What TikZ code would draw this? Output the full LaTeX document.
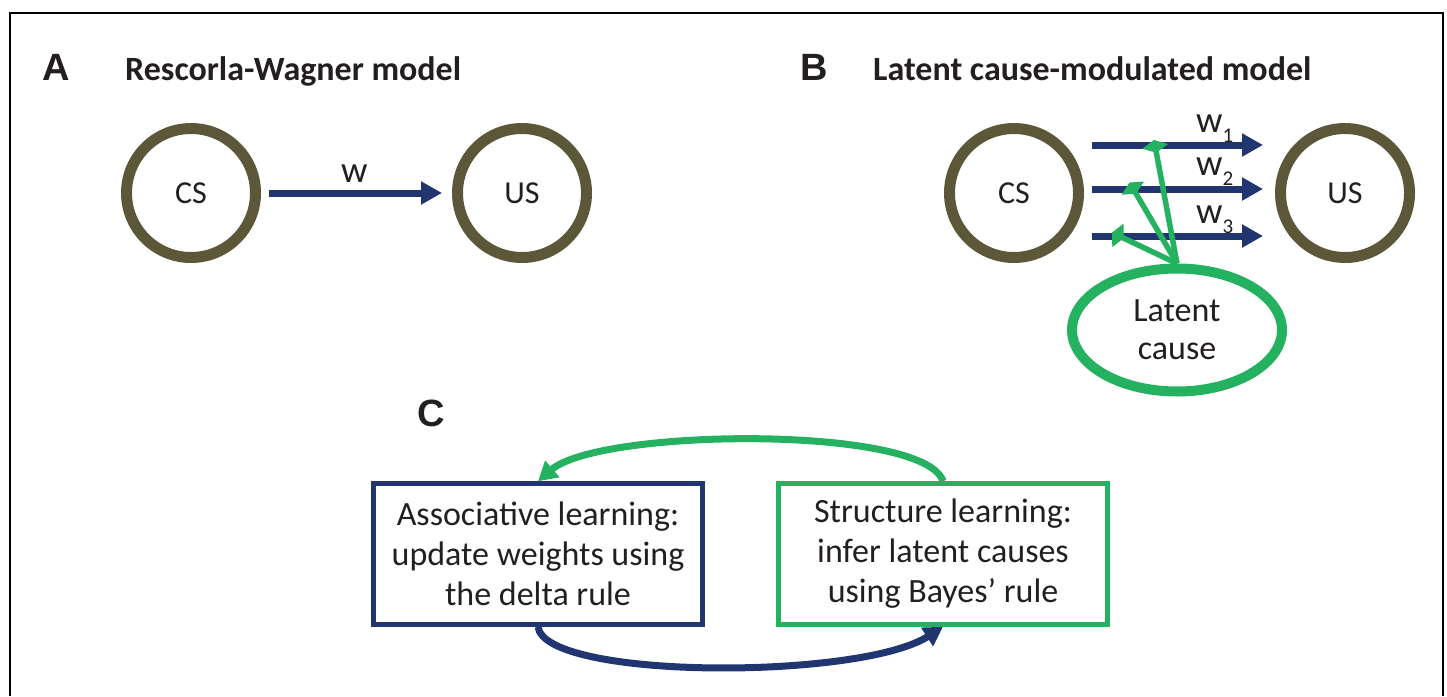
\documentclass[tikz,border=0pt]{standalone}
\usepackage{fontspec}
\setmainfont{Carlito}
\newfontfamily\panelfont{Liberation Sans}
\usetikzlibrary{arrows.meta,shapes.geometric,calc}
\definecolor{navyc}{RGB}{33,54,112}
\definecolor{olivec}{RGB}{92,87,56}
\definecolor{greenc}{RGB}{37,178,96}
\definecolor{inkc}{RGB}{35,31,32}
\newcommand\wsub[1]{\raisebox{-10pt}{\fontsize{21}{24}\selectfont #1}}
\begin{document}
\begin{tikzpicture}[x=1pt,y=-1pt,
  every node/.style={text=inkc},
  panel/.style={font=\panelfont\bfseries\fontsize{38}{40}\selectfont,anchor=base west,inner sep=0pt},
  ptitle/.style={font=\bfseries\fontsize{34}{40}\selectfont,anchor=base west,inner sep=0pt},
  stim/.style={circle,draw=olivec,line width=11pt,minimum size=129pt,inner sep=0pt,
    font=\fontsize{32}{38}\selectfont},
  wlink/.style={draw=navyc,line width=7pt,-{Triangle[length=21pt,width=22pt]}},
  wlab/.style={font=\fontsize{37}{40}\selectfont,anchor=base west,inner sep=0pt},
  gate/.style={draw=greenc,line width=5.5pt,-{Diamond[length=13pt,width=26pt]}},
  latent/.style={ellipse,draw=greenc,line width=10pt,fill=white,minimum width=210pt,
    minimum height=123pt,inner sep=0pt,align=center,font=\fontsize{34}{38}\selectfont},
  procbox/.style={rectangle,line width=4.5pt,minimum width=329pt,minimum height=141pt,
    inner sep=0pt,align=center,font=\fontsize{34}{40}\selectfont},
  loopg/.style={draw=greenc,line width=7pt,-{Triangle[length=19pt,width=21pt]}},
  loopn/.style={draw=navyc,line width=7pt,-{Triangle[length=19pt,width=21pt]}}]

\useasboundingbox (0,0) rectangle (1447,696);

% outer frame (open at the bottom)
\draw[line width=1.5pt] (10,696) -- (10,13) -- (1443,13) -- (1443,696);

% ---------- A: Rescorla-Wagner ----------
\node[panel] (lA) at (42,80) {A};
\node[ptitle] (tA) at (125,80) {Rescorla-Wagner model};
\node[stim] (csA) at (191,193) {CS};
\node[stim] (usA) at (522,193) {US};
\draw[wlink,shorten <=8pt,shorten >=10pt] (csA.east) -- (usA.west);
\node[wlab] (wA) at (341,182) {w};

% ---------- B: latent cause-modulated ----------
\node[panel] (lB) at (800,80) {B};
\node[ptitle] (tB) at (873,80) {Latent cause-modulated model};
\node[stim] (csB) at (1014,193) {CS};
\node[stim] (usB) at (1345,193) {US};
\draw[wlink] ($(csB.center)+(78,-48)$) -- ($(usB.center)+(-82,-48)$);
\draw[wlink] ($(csB.center)+(78,-4)$) -- ($(usB.center)+(-82,-4)$);
\draw[wlink] ($(csB.center)+(78,43)$) -- ($(usB.center)+(-82,43)$);
\node[wlab] (w1) at (1196,132) {w\wsub{1}};
\node[wlab] (w2) at (1196,175) {w\wsub{2}};
\node[wlab] (w3) at (1196,223) {w\wsub{3}};

\node[latent] (lat) at (1177,330) {Latent\\cause};
\coordinate (m1) at (1154,140);
\coordinate (m2) at (1129.5,182.5);
\coordinate (m3) at (1112,232.6);
\draw[gate] (lat.north) -- (m1);
\draw[gate] (lat.north) -- (m2);
\draw[gate] (lat.north) -- (m3);

% ---------- C: learning loop ----------
\node[panel] (lC) at (417,426) {C};
\node[procbox,draw=navyc] (al) at (538,554)
  {Associative learning:\\update weights using\\the delta rule};
\node[procbox,draw=greenc] (sl) at (943,554)
  {Structure learning:\\infer latent causes\\using Bayes’ rule};
\draw[loopg] (sl.north) .. controls (925,425) and (600,428) .. (al.north);
\draw[loopn] (al.south) .. controls (545,680) and (860,680) .. (sl.south);
\end{tikzpicture}
\end{document}
